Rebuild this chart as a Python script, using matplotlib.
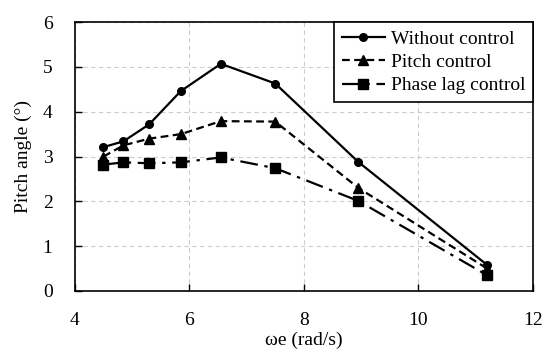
import matplotlib
matplotlib.use('Agg')
import matplotlib.pyplot as plt

plt.rcParams['font.family'] = ['Liberation Serif', 'DejaVu Serif']

# data
omega = [4.5, 4.85, 5.3, 5.85, 6.55, 7.5, 8.95, 11.2]
without_control = [3.21, 3.34, 3.72, 4.46, 5.07, 4.63, 2.88, 0.58]
pitch_control = [3.0, 3.25, 3.4, 3.5, 3.79, 3.78, 2.3, 0.5]
phase_lag_control = [2.82, 2.87, 2.85, 2.87, 2.98, 2.74, 2.01, 0.35]

x_ticks = [4, 6, 8, 10, 12]
y_ticks = [0, 1, 2, 3, 4, 5, 6]

fig = plt.figure(figsize=(5.5, 3.57), dpi=100)
ax = fig.add_axes([0.136, 0.185, 0.833, 0.753])

ax.plot(omega, without_control, color='black', linestyle='-', linewidth=1.6,
        marker='o', markersize=5.5, label='Without control')
ax.plot(omega, pitch_control, color='black', linestyle=(0, (3.5, 2)), linewidth=1.6,
        marker='^', markersize=6.5, label='Pitch control')
ax.plot(omega, phase_lag_control, color='black', linestyle=(0, (8, 3, 1.5, 3)), linewidth=1.6,
        marker='s', markersize=7.5, label='Phase lag control')

ax.set_xlim(4, 12)
ax.set_ylim(0, 6)
ax.set_xticks(x_ticks)
ax.set_yticks(y_ticks)
ax.grid(True, color='#cccccc', linestyle=(0, (4, 3)), linewidth=0.8)
ax.set_axisbelow(True)
ax.tick_params(direction='in', length=5, width=1, labelsize=14)
ax.tick_params(axis='x', pad=15)
ax.tick_params(axis='y', pad=16)
for s in ax.spines.values():
    s.set_linewidth(1.2)

ax.set_xlabel('ωe (rad/s)', fontsize=14, labelpad=2)
ax.set_ylabel('Pitch angle (°)', fontsize=14, labelpad=8)

leg = ax.legend(loc='upper right', fontsize=14, frameon=True, fancybox=False,
                edgecolor='black', framealpha=1, borderaxespad=0,
                handlelength=2.2, handletextpad=0.3, borderpad=0.4, labelspacing=0.3)
leg.get_frame().set_linewidth(1.2)

fig.savefig('out.png', dpi=100)
